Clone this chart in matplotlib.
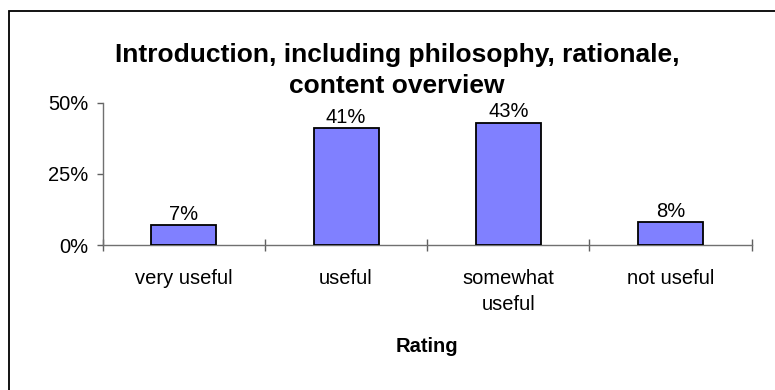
import matplotlib
matplotlib.use("Agg")
import matplotlib.pyplot as plt
from matplotlib.patches import Rectangle
from matplotlib.ticker import PercentFormatter

plt.rcParams['font.family'] = ['Liberation Sans', 'DejaVu Sans']

# survey results
ratings = ["very useful", "useful", "somewhat\nuseful", "not useful"]
shares = [7, 41, 43, 8]  # percent
yticks = [0, 25, 50]

title = "Introduction, including philosophy, rationale,\ncontent overview"

fig = plt.figure(figsize=(7.75, 3.9), dpi=100)
ax = fig.add_axes([0.1325, 0.371, 0.8375, 0.3657])

x = range(len(ratings))
bars = ax.bar(x, shares, width=0.4, color="#8080FF", edgecolor="black",
              linewidth=1.3, zorder=3)
for b, v in zip(bars, shares):
  ax.text(b.get_x() + b.get_width()/2, v + 0.6, f"{v}%", ha="center",
          va="bottom", fontsize=14.5)

ax.set_xlim(-0.5, len(ratings) - 0.5)
ax.set_ylim(0, 50)
ax.set_yticks(yticks)
ax.yaxis.set_major_formatter(PercentFormatter(decimals=0))

# labels sit between boundary ticks
ax.set_xticks(list(x))
ax.set_xticklabels(ratings, fontsize=14.5, linespacing=1.5)
ax.set_xticks([i - 0.5 for i in range(len(ratings) + 1)], minor=True)
ax.tick_params(axis="x", which="major", length=0, pad=17)
ax.tick_params(axis="x", which="minor", direction="inout", length=9,
               width=1, color="#606060")
ax.tick_params(axis="y", length=4.5, width=1, color="#606060", pad=6,
               labelsize=14.5)

for s in ["top", "right"]:
  ax.spines[s].set_visible(False)
for s in ["left", "bottom"]:
  ax.spines[s].set_color("#707070")
  ax.spines[s].set_linewidth(1)

ax.set_xlabel("Rating", fontsize=14.5, fontweight="bold", labelpad=16)

fig.text(397/775, 1 - 93/390, title, ha="center", va="baseline",
         fontsize=19, fontweight="bold", linespacing=1.38,
         multialignment="center")

# chart frame
fig.patches.append(Rectangle((9/775, -0.1), 1.2, 1.1 - 11/390,
                             transform=fig.transFigure, fill=False,
                             edgecolor="black", linewidth=1.3))

fig.savefig("out.png", dpi=100)
